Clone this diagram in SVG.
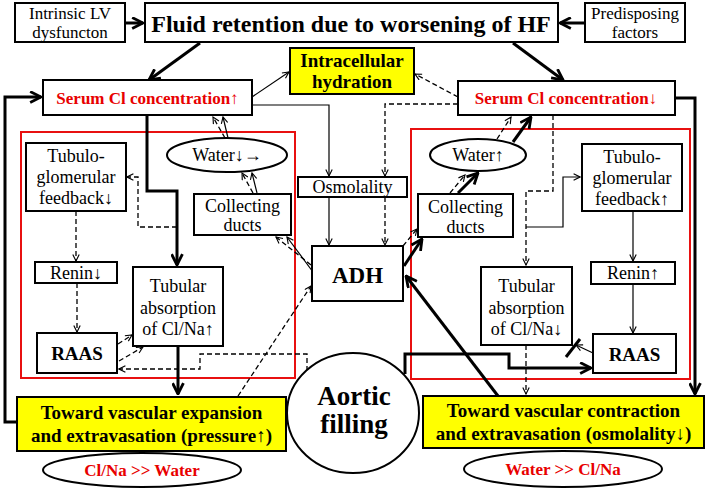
<svg xmlns="http://www.w3.org/2000/svg" width="709" height="491" viewBox="0 0 709 491">
<defs>
<marker id="at" viewBox="0 0 12 12" refX="11" refY="6" markerWidth="13" markerHeight="13" orient="auto" markerUnits="userSpaceOnUse"><path d="M1,1 L11,6 L1,11" fill="none" stroke="#000" stroke-width="2.6"/></marker>
<marker id="an" viewBox="0 0 10 10" refX="9" refY="5" markerWidth="8" markerHeight="8" orient="auto" markerUnits="userSpaceOnUse"><path d="M1,1 L9,5 L1,9" fill="none" stroke="#000" stroke-width="1.4"/></marker>
</defs>
<style>
.box{fill:#fff;stroke:#000;stroke-width:2}
.yel{fill:#ffff00;stroke:#000;stroke-width:2}
.red{fill:none;stroke:#e81010;stroke-width:2}
.t{font-family:"Liberation Serif","Times New Roman",serif;font-size:18px;text-anchor:middle;fill:#000}
.b{font-family:"Liberation Serif","Times New Roman",serif;font-weight:bold;text-anchor:middle;fill:#000}
.r{fill:#e80000}
.thick{fill:none;stroke:#000;stroke-width:3}
.thin{fill:none;stroke:#000;stroke-width:1.2}
.dash{fill:none;stroke:#000;stroke-width:1.3;stroke-dasharray:5,3}
</style>
<rect width="709" height="491" fill="#fff"/>
<g id="red-frames">
<rect class="red" x="21" y="132" width="274" height="246"/>
<rect class="red" x="411" y="129" width="279" height="250"/>
</g>
<g id="connectors">
<path class="thick" d="M125,23 H143" marker-end="url(#at)"/>
<path class="thick" d="M585,23 H560" marker-end="url(#at)"/>
<path class="thick" d="M200,43 L149,80" marker-end="url(#at)"/>
<path class="thick" d="M513,43 L563,80" marker-end="url(#at)"/>
<path class="thin" d="M252,97 L289,72" marker-end="url(#an)"/>
<path class="dash" d="M458,97 L415,74" marker-end="url(#an)"/>
<path class="thick" d="M17,422 H5 V97 H41" marker-end="url(#at)"/>
<path class="thick" d="M675,98 H695 V394" marker-end="url(#at)"/>
<path class="thick" d="M147,115 V191 H177 V265" marker-end="url(#at)"/>
<path class="thick" d="M178,346 V394" marker-end="url(#at)"/>
<path class="dash" d="M177,227 H138 V177 H127" marker-end="url(#an)"/>
<path class="dash" d="M76,211 V261" marker-end="url(#an)"/>
<path class="dash" d="M77,283 V332" marker-end="url(#an)"/>
<path class="dash" d="M118,344 L132,335" marker-end="url(#an)"/>
<path class="dash" d="M119,361 L143,347" marker-end="url(#an)"/>
<path class="dash" d="M307,371 V354 H200 V369 H119" marker-end="url(#an)"/>
<path class="dash" d="M238,396 L311,286" marker-end="url(#an)"/>
<path class="dash" d="M311,265 L276,237" marker-end="url(#an)"/>
<path class="thin" d="M313,272 L287,237" marker-end="url(#an)"/>
<path class="dash" d="M253,193 L242,173" marker-end="url(#an)"/>
<path class="thin" d="M257,193 L252,173" marker-end="url(#an)"/>
<path class="dash" d="M225,138 L213,117" marker-end="url(#an)"/>
<path class="thin" d="M228,138 L223,117" marker-end="url(#an)"/>
<path class="thin" d="M252,105 H329 V176" marker-end="url(#an)"/>
<path class="dash" d="M458,104 H385 V176" marker-end="url(#an)"/>
<path class="thin" d="M329,197 V245" marker-end="url(#an)"/>
<path class="dash" d="M385,197 V245" marker-end="url(#an)"/>
<path class="thick" d="M404,266 L422,239" marker-end="url(#at)"/>
<path class="dash" d="M403,246 L417,229" marker-end="url(#an)"/>
<path class="dash" d="M450,193 L465,175" marker-end="url(#an)"/>
<path class="thick" d="M458,193 L478,173" marker-end="url(#at)"/>
<path class="dash" d="M497,139 L511,117" marker-end="url(#an)"/>
<path class="thick" d="M513,142 L531,117" marker-end="url(#at)"/>
<path class="dash" d="M553,115 V191 H526 V265" marker-end="url(#an)"/>
<path class="thin" d="M526,227 H563 V177 H580" marker-end="url(#an)"/>
<path class="thin" d="M633,211 V261" marker-end="url(#an)"/>
<path class="thin" d="M633,284 V333" marker-end="url(#an)"/>
<path class="thin" d="M593,353 L576,345" marker-end="url(#an)"/>
<path d="M566,357 L580,339" fill="none" stroke="#000" stroke-width="3"/>
<path class="thick" d="M405,374 V354 H509 V368 H591" marker-end="url(#at)"/>
<path class="thick" d="M498,396 L406,276" marker-end="url(#at)"/>
<path class="dash" d="M526,345 V394" marker-end="url(#an)"/>
</g>
<g id="intrinsic"><rect class="box" x="15" y="3" width="110" height="39"/><text class="t" x="70" y="19" font-size="17" style="font-size:17px">Intrinsic LV</text><text class="t" x="70" y="38" style="font-size:17px">dysfuncton</text></g>
<g id="fluid"><rect class="box" x="145" y="3" width="413" height="39"/><text class="b" x="351" y="32" style="font-size:24px">Fluid retention due to worsening of HF</text></g>
<g id="predisposing"><rect class="box" x="585" y="3" width="100" height="39"/><text class="t" x="635" y="19" style="font-size:17px">Predisposing</text><text class="t" x="635" y="38" style="font-size:17px">factors</text></g>
<g id="intracellular"><rect class="yel" x="290" y="48" width="124" height="46"/><text class="b" x="352" y="67" style="font-size:19px">Intracellular</text><text class="b" x="352" y="88" style="font-size:19px">hydration</text></g>
<g id="serum-up"><rect class="box" x="43" y="80" width="209" height="35"/><text class="b r" x="147.5" y="104" style="font-size:17px">Serum Cl concentration↑</text></g>
<g id="serum-down"><rect class="box" x="458" y="81" width="217" height="34"/><text class="b r" x="566" y="104" style="font-size:17px">Serum Cl concentration↓</text></g>
<g id="tgf-down"><rect class="box" x="26" y="143" width="100" height="68"/><text class="t" x="76" y="162">Tubulo-</text><text class="t" x="76" y="183">glomerular</text><text class="t" x="76" y="204">feedback↓</text></g>
<g id="tgf-up"><rect class="box" x="582" y="144" width="100" height="67"/><text class="t" x="632" y="163">Tubulo-</text><text class="t" x="632" y="184">glomerular</text><text class="t" x="632" y="205">feedback↑</text></g>
<g id="water-left"><ellipse class="box" cx="227" cy="155" rx="60" ry="17"/><text class="t" x="227" y="161">Water↓→</text></g>
<g id="water-right"><ellipse class="box" cx="478" cy="155" rx="48" ry="16"/><text class="t" x="478" y="161">Water↑</text></g>
<g id="cd-left"><rect class="box" x="194" y="194" width="97" height="41"/><text class="t" x="242.5" y="212">Collecting</text><text class="t" x="242.5" y="231">ducts</text></g>
<g id="cd-right"><rect class="box" x="418" y="194" width="95" height="43"/><text class="t" x="465.5" y="213">Collecting</text><text class="t" x="465.5" y="233">ducts</text></g>
<g id="osmolality"><rect class="box" x="298" y="177" width="109" height="20"/><text class="t" x="352.5" y="193">Osmolality</text></g>
<g id="adh"><rect class="box" x="312" y="246" width="91" height="55"/><text class="b" x="357.5" y="283" style="font-size:23px">ADH</text></g>
<g id="renin-down"><rect class="box" x="35" y="262" width="82" height="21"/><text class="t" x="76" y="279">Renin↓</text></g>
<g id="renin-up"><rect class="box" x="591" y="262" width="84" height="22"/><text class="t" x="633" y="279">Renin↑</text></g>
<g id="tub-up"><rect class="box" x="133" y="267" width="90" height="79"/><text class="t" x="178" y="292">Tubular</text><text class="t" x="178" y="314">absorption</text><text class="t" x="178" y="335">of Cl/Na↑</text></g>
<g id="tub-down"><rect class="box" x="481" y="267" width="91" height="78"/><text class="t" x="526.5" y="292">Tubular</text><text class="t" x="526.5" y="314">absorption</text><text class="t" x="526.5" y="335">of Cl/Na↓</text></g>
<g id="raas-left"><rect class="box" x="37" y="333" width="80" height="40"/><text class="b" x="77" y="360" style="font-size:19px">RAAS</text></g>
<g id="raas-right"><rect class="box" x="593" y="334" width="83" height="39"/><text class="b" x="634.5" y="361" style="font-size:19px">RAAS</text></g>
<g id="aortic"><ellipse class="box" cx="353" cy="413" rx="66" ry="60"/><text class="b" x="354" y="405" style="font-size:27px">Aortic</text><text class="b" x="354" y="433" style="font-size:27px">filling</text></g>
<g id="expansion"><rect class="yel" x="17" y="397" width="269" height="54"/><text class="b" x="151.5" y="419" style="font-size:19px">Toward vascular expansion</text><text class="b" x="151.5" y="442" style="font-size:19px">and extravasation (pressure↑)</text></g>
<g id="contraction"><rect class="yel" x="423" y="396" width="281" height="52"/><text class="b" x="563.5" y="417" style="font-size:19px">Toward vascular contraction</text><text class="b" x="563.5" y="440" style="font-size:19px">and extravasation (osmolality↓)</text></g>
<g id="clna-water"><ellipse class="box" cx="142" cy="470" rx="99" ry="17"/><text class="b r" x="142" y="476" style="font-size:17px">Cl/Na &gt;&gt; Water</text></g>
<g id="water-clna"><ellipse class="box" cx="563" cy="469" rx="99" ry="18"/><text class="b r" x="563" y="475" style="font-size:17px">Water &gt;&gt; Cl/Na</text></g>
</svg>
